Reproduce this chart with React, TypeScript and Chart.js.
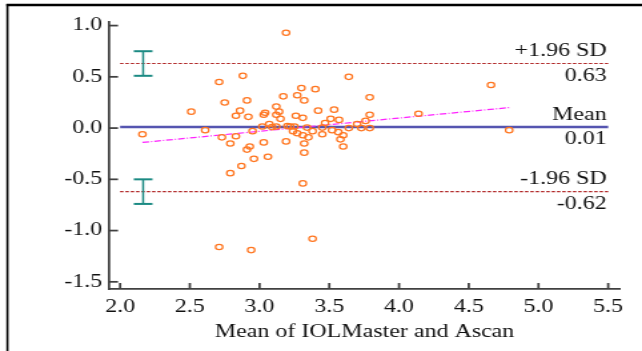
import React, { useEffect, useRef } from "react";
import { Chart, registerables } from "chart.js";

Chart.register(...registerables);

// Bland-Altman data: mean of the two methods (x) and their difference (y)
const meanValues = [
  2.16, 2.51, 2.61, 2.71, 2.88, 2.75, 2.91, 2.86, 2.83, 2.92,
  2.73, 2.79, 2.83, 2.95, 2.93, 2.91, 2.96, 2.87, 2.79, 3.06,
  3.03, 3.19, 3.19, 3.17, 3.27, 3.30, 3.32, 3.40, 3.12, 3.04,
  3.03, 3.14, 3.12, 3.15, 3.26, 3.31, 3.42, 3.02, 3.07, 3.09,
  3.12, 3.20, 3.22, 3.25, 3.24, 3.27, 3.31, 3.34, 3.38, 3.35,
  3.32, 3.32, 3.45, 3.45, 3.47, 3.51, 3.57, 3.535, 3.52, 3.565,
  3.60, 3.58, 3.60, 3.64, 3.70, 3.76, 3.73, 3.79, 3.79, 3.79,
  3.64, 4.14, 4.66, 4.79, 3.31, 2.71, 2.94, 3.38,
];
const diffValues = [
  -0.06, 0.16, -0.02, 0.45, 0.51, 0.25, 0.27, 0.17, 0.12, 0.11,
  -0.09, -0.15, -0.08, -0.03, -0.18, -0.21, -0.30, -0.37, -0.44, -0.28,
  -0.14, -0.13, 0.93, 0.31, 0.32, 0.39, 0.27, 0.38, 0.21, 0.15,
  0.13, 0.16, 0.13, 0.09, 0.12, 0.10, 0.17, 0.015, 0.04, 0.01,
  0.015, 0.02, 0.015, 0.015, -0.03, -0.05, -0.07, 0.005, -0.03, -0.09,
  -0.15, -0.24, 0.005, -0.06, 0.05, 0.09, 0.08, 0.18, -0.02, -0.04,
  -0.07, -0.11, -0.18, 0.0, 0.04, 0.07, 0.0, 0.0, 0.13, 0.30,
  0.50, 0.14, 0.42, -0.02, -0.54, -1.16, -1.19, -1.08,
];

const limitValues = [0.63, 0.01, -0.62];
const limitNames = ["+1.96 SD", "Mean", "-1.96 SD"];
const limitSpan = [2.0, 5.5];
const regressionX = [2.16, 4.79];
const regressionY = [-0.14, 0.2];
const ciX = 2.165;
const upperCI = [0.51, 0.75];
const lowerCI = [-0.74, -0.5];
const xRange = [1.92, 5.585];
const yRange = [-1.57, 1.035];
const tickStep = 0.5;
const xAxisTitle = "Mean of IOLMaster and Ascan";

const CANVAS_W = 482;
const CANVAS_H = 351;
const FONT = '"Liberation Serif", "Times New Roman", serif';
const TEXT = "#111111";
const AXIS = "#404040";

const decorPlugin = {
  id: "decor",
  beforeDraw(chart: any) {
    const ctx = chart.ctx;
    ctx.save();
    ctx.fillStyle = "#ffffff";
    ctx.fillRect(0, 0, chart.width, chart.height);
    ctx.strokeStyle = "#000000";
    ctx.lineWidth = 2.5;
    ctx.beginPath();
    ctx.moveTo(4.8, 5);
    ctx.lineTo(chart.width, 5);
    ctx.stroke();
    ctx.lineWidth = 1.6;
    ctx.beginPath();
    ctx.moveTo(5.6, 4);
    ctx.lineTo(5.6, chart.height);
    ctx.stroke();
    ctx.restore();
  },
  afterDraw(chart: any) {
    const ctx = chart.ctx;
    const xs = chart.scales.x;
    const ys = chart.scales.y;
    const area = chart.chartArea;
    ctx.save();
    // inward tick marks
    ctx.strokeStyle = AXIS;
    ctx.lineWidth = 1.75;
    ys.ticks.forEach((t: any) => {
      const py = ys.getPixelForValue(t.value);
      ctx.beginPath();
      ctx.moveTo(area.left, py);
      ctx.lineTo(area.left + 6.8, py);
      ctx.stroke();
    });
    xs.ticks.forEach((t: any) => {
      const px = xs.getPixelForValue(t.value);
      ctx.beginPath();
      ctx.moveTo(px, area.bottom);
      ctx.lineTo(px, area.bottom - 6);
      ctx.stroke();
    });
    // confidence interval bars of the limits of agreement
    ctx.strokeStyle = "#1b8a83";
    const cx = xs.getPixelForValue(ciX);
    [upperCI, lowerCI].forEach((ci) => {
      const y1 = ys.getPixelForValue(ci[0]);
      const y2 = ys.getPixelForValue(ci[1]);
      ctx.lineWidth = 1.5;
      ctx.beginPath();
      ctx.moveTo(cx, y1);
      ctx.lineTo(cx, y2);
      ctx.stroke();
      ctx.lineWidth = 2;
      [y1, y2].forEach((yy) => {
        ctx.beginPath();
        ctx.moveTo(cx - 7, yy);
        ctx.lineTo(cx + 7, yy);
        ctx.stroke();
      });
    });
    // limit labels
    ctx.fillStyle = TEXT;
    ctx.font = `18px ${FONT}`;
    ctx.textAlign = "right";
    ctx.textBaseline = "middle";
    const rx = xs.getPixelForValue(limitSpan[1]) - 1.2;
    limitValues.forEach((v, i) => {
      const py = ys.getPixelForValue(v);
      ctx.fillText(limitNames[i], rx, py - 12);
      ctx.fillText(v.toFixed(2), rx, py + 12.5);
    });
    ctx.restore();
  },
};

export default function App() {
  const ref = useRef<HTMLCanvasElement | null>(null);

  useEffect(() => {
    if (!ref.current) return;
    const points = meanValues.map((x, i) => ({ x, y: diffValues[i] }));
    const limitLine = (v: number) => [
      { x: limitSpan[0], y: v },
      { x: limitSpan[1], y: v },
    ];
    const chart = new Chart(ref.current, {
      type: "scatter",
      data: {
        datasets: [
          {
            type: "scatter",
            data: points,
            pointStyle: "circle",
            pointRadius: 2.7,
            pointBorderWidth: 1.25,
            borderColor: "#ff7620",
            backgroundColor: "rgba(0,0,0,0)",
            pointBackgroundColor: "rgba(0,0,0,0)",
          } as any,
          {
            type: "line",
            data: regressionX.map((x, i) => ({ x, y: regressionY[i] })),
            borderColor: "#ff22ff",
            borderWidth: 1.2,
            borderDash: [5, 1.5, 1, 1.5],
            pointRadius: 0,
            fill: false,
          } as any,
          {
            type: "line",
            data: limitLine(limitValues[1]),
            borderColor: "#5555b0",
            borderWidth: 2.5,
            pointRadius: 0,
            fill: false,
          } as any,
          {
            type: "line",
            data: limitLine(limitValues[0]),
            borderColor: "#b02424",
            borderWidth: 1.1,
            borderDash: [2.5, 1.5],
            pointRadius: 0,
            fill: false,
          } as any,
          {
            type: "line",
            data: limitLine(limitValues[2]),
            borderColor: "#b02424",
            borderWidth: 1.1,
            borderDash: [2.5, 1.5],
            pointRadius: 0,
            fill: false,
          } as any,
        ],
      },
      options: {
        responsive: false,
        devicePixelRatio: 1,
        animation: false,
        layout: { padding: { left: 0, right: 16.5, top: 22, bottom: 0 } },
        plugins: { legend: { display: false }, tooltip: { enabled: false } },
        scales: {
          x: {
            type: "linear",
            min: xRange[0],
            max: xRange[1],
            grid: { display: false, drawTicks: false },
            border: { display: true, color: AXIS, width: 1.75 },
            ticks: {
              stepSize: tickStep,
              includeBounds: false,
              autoSkip: false,
              maxRotation: 0,
              padding: 7,
              color: TEXT,
              font: { family: FONT, size: 18 },
              callback: (v: any) => Number(v).toFixed(1),
            },
            title: {
              display: true,
              text: xAxisTitle,
              color: TEXT,
              font: { family: FONT, size: 18 },
              padding: { top: 0, bottom: 8 },
            },
            afterFit: (s: any) => {
              s.height = 62;
            },
          },
          y: {
            type: "linear",
            min: yRange[0],
            max: yRange[1],
            grid: { display: false, drawTicks: false },
            border: { display: true, color: AXIS, width: 1.75 },
            ticks: {
              stepSize: tickStep,
              includeBounds: false,
              autoSkip: false,
              padding: 5,
              color: TEXT,
              font: { family: FONT, size: 18 },
              callback: (v: any) => Number(v).toFixed(1),
            },
            afterFit: (s: any) => {
              s.width = 81.8;
            },
          },
        },
      } as any,
      plugins: [decorPlugin],
    });
    return () => chart.destroy();
  }, []);

  return (
    <div style={{ position: "fixed", left: 0, top: 0, width: 642, height: 351, background: "#fff" }}>
      <canvas
        ref={ref}
        width={CANVAS_W}
        height={CANVAS_H}
        style={{ width: "642px", height: "351px", display: "block" }}
      />
    </div>
  );
}
